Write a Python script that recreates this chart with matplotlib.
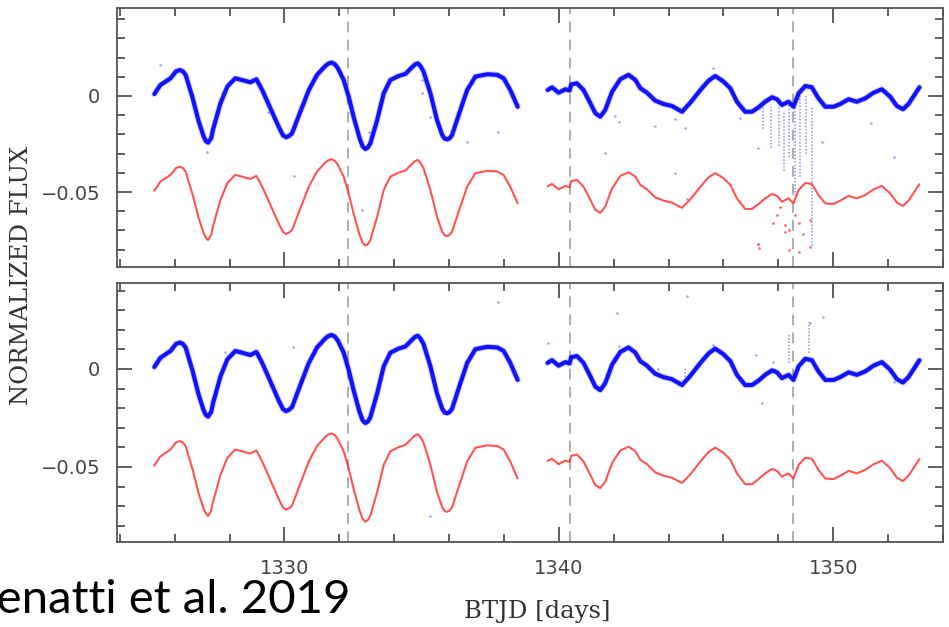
# TESS light curve, two reductions (Benatti et al. 2019 style figure)

import numpy as np
import matplotlib
matplotlib.use('Agg')
import matplotlib.pyplot as plt
from matplotlib.ticker import MultipleLocator, FuncFormatter

# ---- data (BTJD days, normalized flux) ----
# first orbit
t1 = [1325.26, 1325.48, 1325.85, 1326.05, 1326.19, 1326.30, 1326.40, 1326.64, 1326.88, 1327.06,
      1327.14, 1327.22, 1327.33, 1327.40, 1327.67, 1327.92, 1328.21, 1328.46, 1328.76, 1328.98,
      1329.19, 1329.49, 1329.79, 1329.95, 1330.06, 1330.17, 1330.28, 1330.58, 1330.89, 1331.19,
      1331.49, 1331.60, 1331.72, 1331.84, 1331.95, 1332.16, 1332.34, 1332.52, 1332.74, 1332.85,
      1332.95, 1333.04, 1333.13, 1333.38, 1333.62, 1333.86, 1334.16, 1334.41, 1334.65, 1334.76,
      1334.86, 1334.96, 1335.07, 1335.32, 1335.56, 1335.75, 1335.84, 1335.93, 1336.02, 1336.11,
      1336.35, 1336.66, 1336.96, 1337.39, 1337.75, 1337.99, 1338.23, 1338.50]
blue1 = [0.0010, 0.0057, 0.0092, 0.0128, 0.0135, 0.0128, 0.0110, -0.0003, -0.0134, -0.0212,
         -0.0235, -0.0243, -0.0220, -0.0174, -0.0038, 0.0049, 0.0092, 0.0083, 0.0071, 0.0087,
         0.0031, -0.0064, -0.0160, -0.0205, -0.0215, -0.0208, -0.0194, -0.0082, 0.0031, 0.0110,
         0.0156, 0.0168, 0.0174, 0.0165, 0.0144, 0.0083, -0.0003, -0.0108, -0.0220, -0.0262,
         -0.0276, -0.0268, -0.0247, -0.0125, 0.0014, 0.0083, 0.0104, 0.0115, 0.0149, 0.0164,
         0.0170, 0.0155, 0.0127, 0.0014, -0.0125, -0.0203, -0.0222, -0.0226, -0.0220, -0.0203,
         -0.0099, 0.0031, 0.0101, 0.0113, 0.0110, 0.0092, 0.0031, -0.0056]
red1 = [-0.0493, -0.0446, -0.0411, -0.0375, -0.0368, -0.0375, -0.0393, -0.0506, -0.0637, -0.0715,
        -0.0738, -0.0750, -0.0723, -0.0677, -0.0541, -0.0454, -0.0411, -0.0420, -0.0432, -0.0416,
        -0.0472, -0.0567, -0.0663, -0.0708, -0.0718, -0.0711, -0.0697, -0.0585, -0.0472, -0.0393,
        -0.0347, -0.0335, -0.0329, -0.0338, -0.0359, -0.0420, -0.0506, -0.0611, -0.0723, -0.0765,
        -0.0779, -0.0771, -0.0750, -0.0628, -0.0489, -0.0420, -0.0399, -0.0388, -0.0354, -0.0339,
        -0.0333, -0.0348, -0.0376, -0.0489, -0.0628, -0.0706, -0.0725, -0.0729, -0.0723, -0.0706,
        -0.0602, -0.0472, -0.0402, -0.0390, -0.0393, -0.0411, -0.0472, -0.0559]

# second orbit
t2 = [1339.59, 1339.75, 1339.99, 1340.24, 1340.39, 1340.45, 1340.66, 1340.90, 1341.15, 1341.33,
      1341.51, 1341.69, 1341.94, 1342.24, 1342.54, 1342.79, 1342.97, 1343.21, 1343.51, 1343.82,
      1344.12, 1344.49, 1344.79, 1345.16, 1345.46, 1345.70, 1346.00, 1346.25, 1346.49, 1346.79,
      1347.04, 1347.28, 1347.52, 1347.77, 1347.95, 1348.13, 1348.37, 1348.55, 1348.74, 1348.98,
      1349.22, 1349.46, 1349.71, 1350.01, 1350.25, 1350.56, 1350.86, 1351.17, 1351.47, 1351.77,
      1352.07, 1352.32, 1352.54, 1352.74, 1352.92, 1353.14]
blue2 = [0.0031, 0.0045, 0.0017, 0.0035, 0.0028, 0.0060, 0.0066, 0.0031, -0.0038, -0.0090,
         -0.0108, -0.0073, 0.0022, 0.0087, 0.0110, 0.0083, 0.0040, 0.0017, -0.0024, -0.0042,
         -0.0052, -0.0082, -0.0035, 0.0031, 0.0080, 0.0104, 0.0075, 0.0040, -0.0030, -0.0082,
         -0.0082, -0.0059, -0.0030, -0.0007, -0.0017, -0.0047, -0.0030, -0.0056, 0.0014, 0.0052,
         0.0045, -0.0012, -0.0056, -0.0056, -0.0042, -0.0017, -0.0030, -0.0012, 0.0017, 0.0035,
         -0.0003, -0.0052, -0.0069, -0.0042, -0.0003, 0.0045]
red2 = [-0.0470, -0.0458, -0.0486, -0.0468, -0.0475, -0.0443, -0.0437, -0.0472, -0.0541, -0.0593,
        -0.0608, -0.0576, -0.0481, -0.0416, -0.0397, -0.0420, -0.0463, -0.0486, -0.0527, -0.0545,
        -0.0555, -0.0582, -0.0538, -0.0472, -0.0423, -0.0401, -0.0428, -0.0463, -0.0533, -0.0588,
        -0.0588, -0.0562, -0.0533, -0.0510, -0.0520, -0.0550, -0.0533, -0.0559, -0.0489, -0.0453,
        -0.0458, -0.0515, -0.0559, -0.0562, -0.0545, -0.0520, -0.0533, -0.0515, -0.0486, -0.0468,
        -0.0506, -0.0555, -0.0572, -0.0545, -0.0506, -0.0460]

# scattered outliers, top panel
top_out_t = [1325.48, 1327.18, 1329.40, 1330.34, 1332.83, 1333.10, 1335.00, 1335.02, 1335.32, 1336.66,
             1337.80, 1341.69, 1342.06, 1342.20, 1343.50, 1344.24, 1344.24, 1344.60, 1344.66, 1345.61,
             1346.60, 1347.24, 1349.60, 1351.38, 1352.20, 1347.24]
top_out_f = [0.016, -0.029, -0.0082, -0.0417, -0.0594, -0.0188, 0.0083, 0.0014, -0.0108, -0.0238,
             -0.0186, -0.0299, -0.0104, -0.0135, -0.0156, -0.0121, -0.0403, -0.0168, -0.0536, 0.0144,
             -0.0116, -0.0272, -0.0238, -0.0139, -0.032, -0.0773]
top_streak_t = [1347.45, 1347.72, 1348.02, 1348.20, 1348.40, 1348.60, 1348.80, 1349.00, 1349.22]
top_streak_lo = [-0.017, -0.027, -0.026, -0.039, -0.032, -0.052, -0.042, -0.030, -0.078]
top_streak_hi = [-0.004, -0.006, -0.005, -0.008, -0.004, -0.002, 0.001, 0.000, -0.006]
top_red_out_t = [1347.24, 1347.30, 1347.80, 1347.95, 1348.05, 1348.25, 1348.25, 1348.40, 1348.40,
                 1348.62, 1348.74, 1348.74, 1349.17, 1349.17, 1348.90]
top_red_out_f = [-0.0773, -0.079, -0.066, -0.062, -0.058, -0.067, -0.0707, -0.0696, -0.080,
                 -0.062, -0.066, -0.081, -0.0646, -0.0785, -0.072]

# scattered outliers, bottom panel
bot_out_t = [1327.85, 1330.33, 1337.80, 1339.62, 1342.12, 1342.18, 1343.60, 1344.67, 1345.61,
             1347.20, 1347.40, 1347.80, 1349.15, 1349.64, 1352.20, 1335.32]
bot_out_f = [0.0088, 0.0114, 0.034, 0.0134, 0.0284, 0.0117, 0.0, 0.0372, 0.0122,
             0.0071, -0.0174, 0.0036, 0.0233, 0.0267, -0.0065, -0.075]
bot_streak_t = [1348.40, 1349.13, 1344.60]
bot_streak_lo = [0.003, 0.008, -0.004]
bot_streak_hi = [0.018, 0.024, 0.001]

# momentum dumps
dump_days = [1332.3, 1340.4, 1348.55]

blue = '#1212ff'
red = '#ff3535'

fig = plt.figure(figsize=(9.49, 6.27), dpi=100)
ax_top = fig.add_axes([0.1233, 0.5742, 0.8704, 0.4131])
ax_bot = fig.add_axes([0.1233, 0.1356, 0.8704, 0.4131], sharex=ax_top)

panels = [
    (ax_top, top_out_t, top_out_f, top_streak_t, top_streak_lo, top_streak_hi,
     top_red_out_t, top_red_out_f, (-0.089, 0.0458)),
    (ax_bot, bot_out_t, bot_out_f, bot_streak_t, bot_streak_lo, bot_streak_hi,
     [], [], (-0.0883, 0.0439)),
]

for ax, ot, of, st, slo, shi, rt, rf, ylim in panels:
    for d in dump_days:
        ax.axvline(d, color='#a8a8a8', lw=1.3, dashes=(6, 4), zorder=1)
    # blue series (faint halo + core)
    for t, f in [(t1, blue1), (t2, blue2)]:
        ax.plot(t, f, color=blue, lw=4.4, alpha=0.2, solid_capstyle='round',
                solid_joinstyle='round', zorder=2)
        ax.plot(t, f, color=blue, lw=3.0, solid_capstyle='round',
                solid_joinstyle='round', zorder=3)
    ax.vlines(st, slo, shi, colors='#5a5aff', lw=1.2, linestyles=(0, (1, 1)), alpha=0.6, zorder=2)
    ax.scatter(ot, of, s=3, color='#6a6aff', alpha=0.7, lw=0, zorder=2)
    # red series
    for t, f in [(t1, red1), (t2, red2)]:
        ax.plot(t, f, color=red, lw=1.5, alpha=0.85, solid_capstyle='round',
                solid_joinstyle='round', zorder=3)
    if rt:
        ax.scatter(rt, rf, s=4, color=red, alpha=0.7, lw=0, zorder=2)

    ax.set_xlim(1323.9, 1354.0)
    ax.set_ylim(*ylim)
    ax.xaxis.set_major_locator(MultipleLocator(10))
    ax.xaxis.set_minor_locator(MultipleLocator(2))
    ax.yaxis.set_major_locator(MultipleLocator(0.05))
    ax.yaxis.set_minor_locator(MultipleLocator(0.01))
    ax.yaxis.set_major_formatter(FuncFormatter(
        lambda v, p: '0' if abs(v) < 1e-9 else ('%g' % v).replace('-', '\u2212')))
    ax.tick_params(which='both', direction='in', top=True, right=True,
                   width=1.2, color='#444444', labelcolor='#444444', labelsize=14)
    ax.tick_params(which='major', length=11, pad=12)
    ax.tick_params(which='minor', length=5.5)
    for s in ax.spines.values():
        s.set_color('#555555')
        s.set_linewidth(1.3)

ax_top.tick_params(labelbottom=False)

fig.text(0.023, 0.561, 'NORMALIZED FLUX', rotation=90, ha='center', va='center',
         family='DejaVu Serif', fontsize=17.5, color='#333333')
fig.text(0.566, 0.014, 'BTJD [days]', ha='center', va='baseline',
         family='DejaVu Serif', fontsize=17.5, color='#333333')
fig.text(0.369, 0.022, 'Benatti et al. 2019', ha='right', va='baseline',
         family='Lato', fontsize=34, color='black')

fig.savefig('out.png', dpi=100)
